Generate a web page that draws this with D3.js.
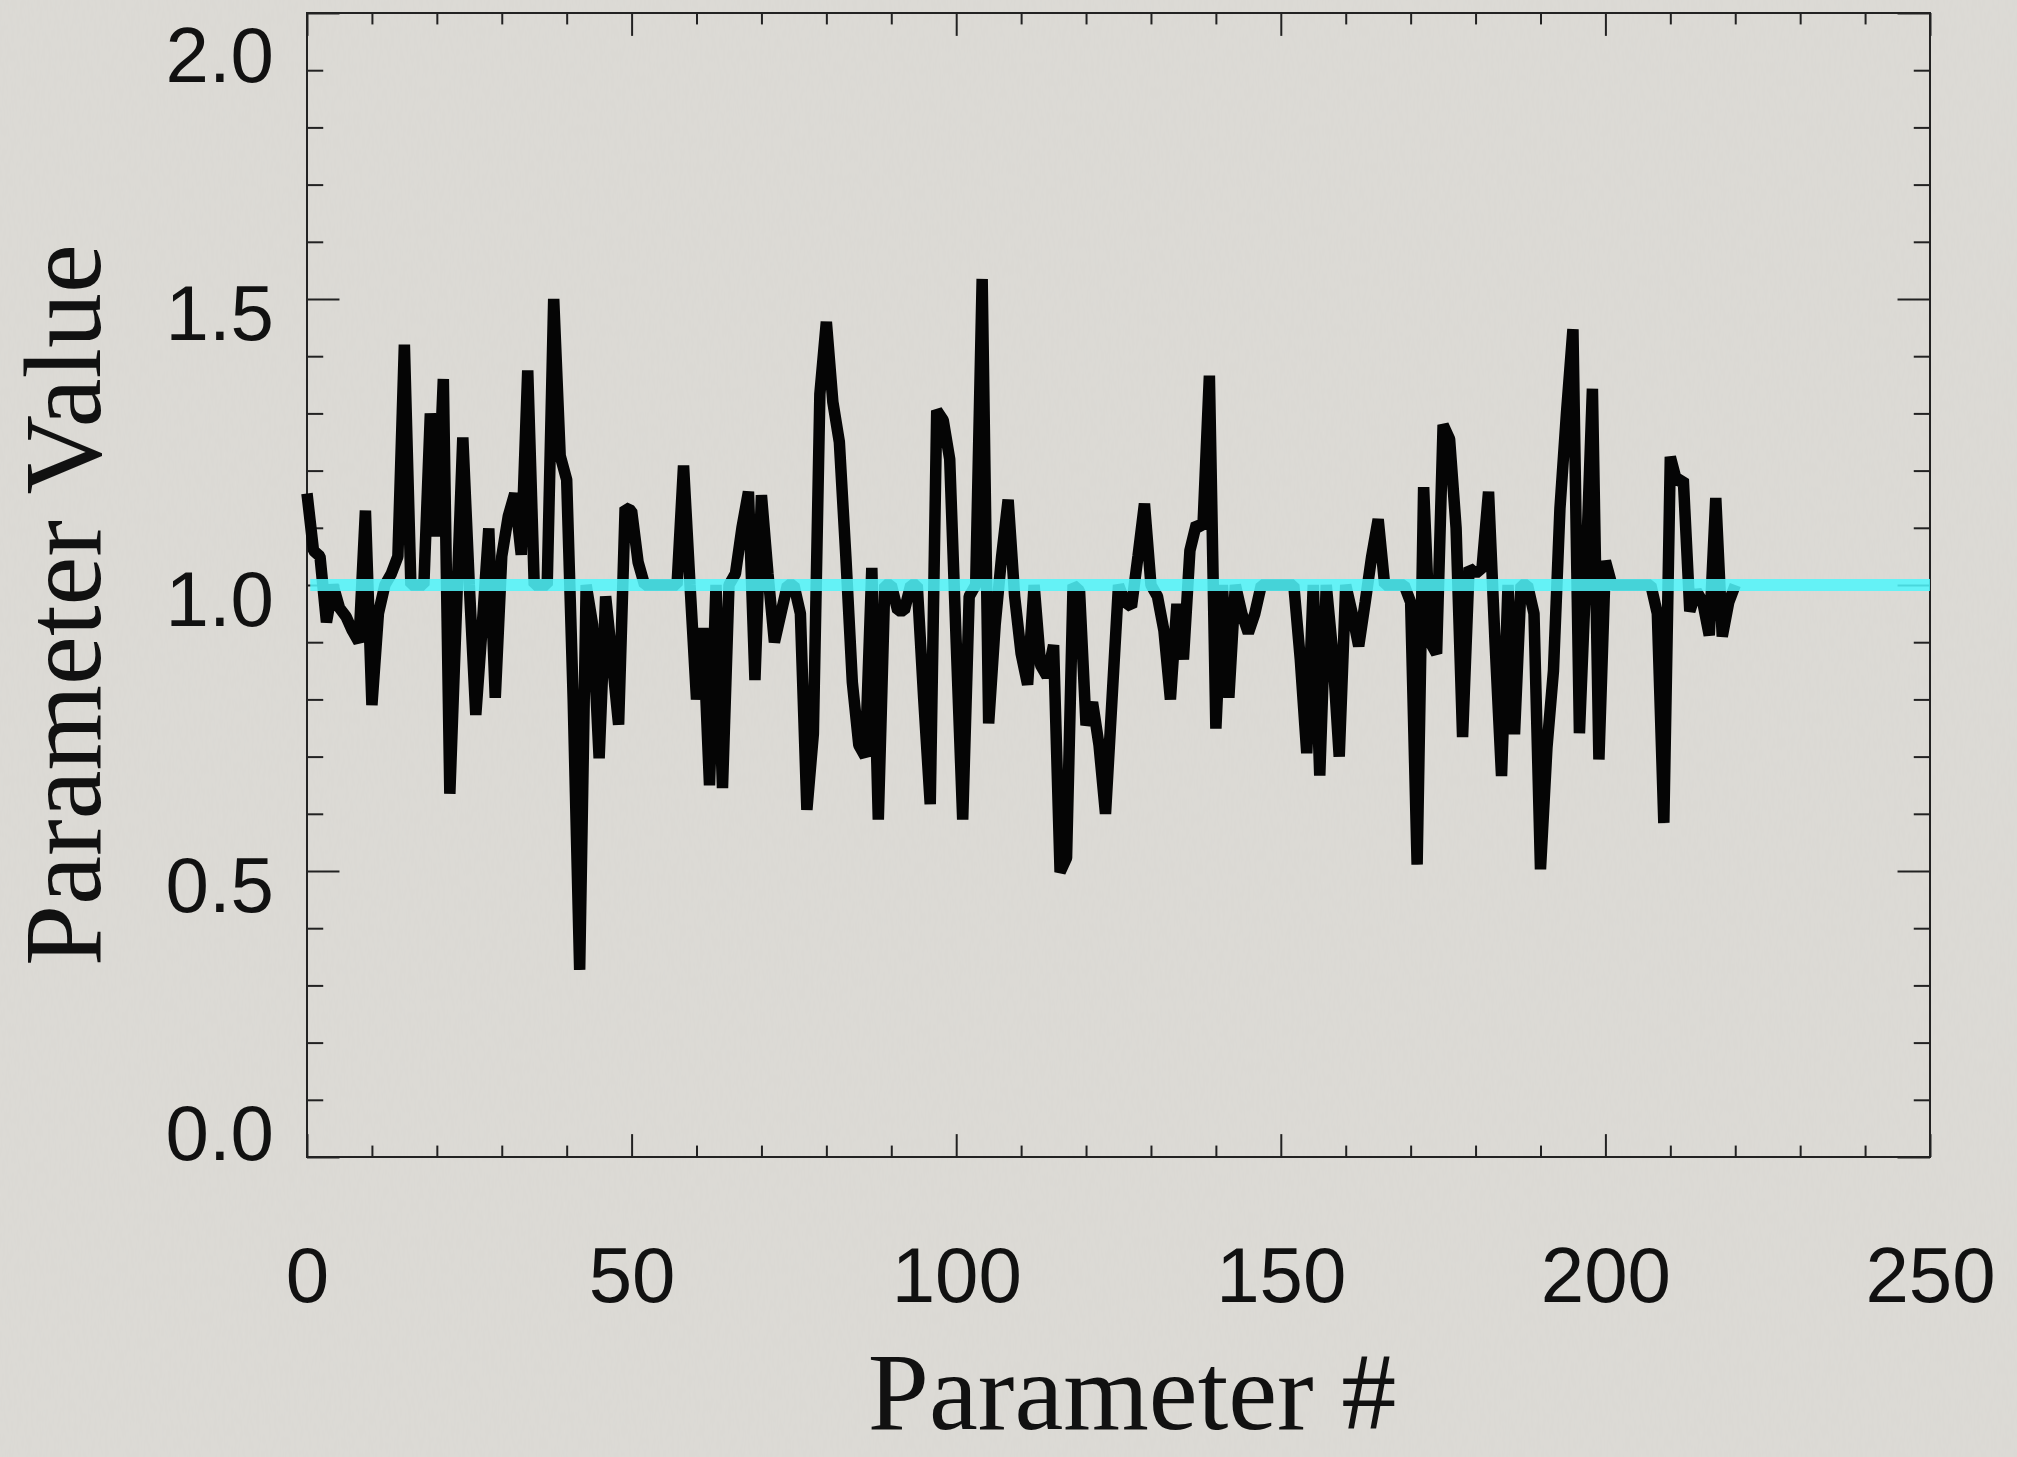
<!DOCTYPE html>
<html>
<head>
<meta charset="utf-8">
<script src="https://cdn.jsdelivr.net/npm/d3@7"></script>
<style>
  body { margin: 0; background: #dddbd6; }
  .tick text { font-family: "Liberation Sans", Arial, sans-serif; font-size: 78px; fill: #111; }
  .title { font-family: "Liberation Serif", "Times New Roman", serif; font-size: 110px; fill: #111; }
</style>
</head>
<body>
<script>
//dimensions declarations
var width = 2017;
var height = 1457;
var margin = {top: 13, right: 87, bottom: 300, left: 307};
    var w = width - margin.left - margin.right;
    var h = height - margin.top - margin.bottom;

//dataset declarations (value of each parameter, index = parameter #)
var paramValues = [
  1.16, 1.06, 1.05, 0.935, 1.0, 0.96, 0.945, 0.92, 0.90, 1.13,
  0.79, 0.95, 1.0, 1.02, 1.05, 1.42, 1.0, 1.0, 1.0, 1.30,
  1.085, 1.36, 0.635, 0.95, 1.258, 1.0, 0.773, 0.93, 1.099, 0.803,
  1.05, 1.12, 1.16, 1.053, 1.375, 1.0, 1.0, 1.0, 1.5, 1.226,
  1.184, 0.8, 0.327, 1.0, 0.93, 0.697, 0.98, 0.87, 0.756, 1.135,
  1.13, 1.04, 1.0, 1.0, 1.0, 1.0, 1.0, 1.0, 1.209, 1.0,
  0.80, 0.925, 0.65, 1.0, 0.645, 1.0, 1.02, 1.10, 1.163, 0.834,
  1.157, 1.02, 0.90, 0.95, 1.0, 1.0, 0.95, 0.607, 0.74, 1.334,
  1.46, 1.32, 1.25, 1.05, 0.83, 0.72, 0.70, 1.03, 0.59, 1.0,
  1.0, 0.955, 0.955, 1.0, 1.0, 0.8, 0.617, 1.305, 1.288, 1.22,
  0.9, 0.59, 0.98, 1.0, 1.535, 0.758, 0.93, 1.05, 1.149, 0.98,
  0.88, 0.826, 1.0, 0.86, 0.84, 0.895, 0.498, 0.523, 1.0, 0.99,
  0.755, 0.795, 0.72, 0.60, 0.8, 1.0, 0.97, 0.962, 1.05, 1.142,
  1.0, 0.98, 0.92, 0.80, 0.967, 0.87, 1.06, 1.107, 1.1, 1.366,
  0.749, 1.0, 0.803, 1.0, 0.95, 0.916, 0.95, 1.0, 1.0, 1.0,
  1.0, 1.0, 1.0, 0.87, 0.706, 1.0, 0.667, 1.0, 0.88, 0.70,
  1.0, 0.95, 0.893, 0.97, 1.05, 1.115, 1.0, 1.0, 1.0, 1.0,
  0.97, 0.511, 1.171, 0.90, 0.88, 1.28, 1.255, 1.1, 0.734, 1.03,
  1.02, 1.03, 1.163, 0.9, 0.666, 1.0, 0.739, 1.0, 1.0, 0.95,
  0.503, 0.716, 0.85, 1.134, 1.3, 1.447, 0.741, 1.02, 1.343, 0.695,
  1.042, 1.0, 1.0, 1.0, 1.0, 1.0, 1.0, 1.0, 0.95, 0.584,
  1.224, 1.18, 1.185, 0.954, 0.99, 0.97, 0.912, 1.152, 0.91, 0.97,
  1.0
];
//reference line (true value)
var refX = [0.5, 250];
var refY = [1.0, 1.0];

//tick labels
var xTicks = [0, 50, 100, 150, 200, 250];
var yTicks = [0.0, 0.5, 1.0, 1.5, 2.0];
var xMinor = [10, 20, 30, 40, 60, 70, 80, 90, 110, 120, 130, 140, 160, 170, 180, 190, 210, 220, 230, 240];
var yMinor = [0.1, 0.2, 0.3, 0.4, 0.6, 0.7, 0.8, 0.9, 1.1, 1.2, 1.3, 1.4, 1.6, 1.7, 1.8, 1.9];

var svg = d3.select("body").append("svg")
    .attr("width", width)
    .attr("height", height);

//paper-like grain for the background
var defs = svg.append("defs");
var grain = defs.append("filter").attr("id", "grain")
    .attr("x", 0).attr("y", 0).attr("width", "100%").attr("height", "100%");
grain.append("feTurbulence")
    .attr("type", "fractalNoise")
    .attr("baseFrequency", "0.35 0.08")
    .attr("numOctaves", 2)
    .attr("seed", 3)
    .attr("result", "noise");
grain.append("feColorMatrix")
    .attr("type", "matrix")
    .attr("values", "0 0 0 0 0.5  0 0 0 0 0.5  0 0 0 0 0.48  0 0 0 0.09 0");

svg.append("rect")
    .attr("width", width)
    .attr("height", height)
    .attr("fill", "#dddbd6");
svg.append("rect")
    .attr("width", width)
    .attr("height", height)
    .attr("filter", "url(#grain)");

var g = svg.append("g")
    .attr("transform", "translate(" + margin.left + "," + margin.top + ")");

var x = d3.scaleLinear().domain([0, 250]).range([0, w]);
var y = d3.scaleLinear().domain([0, 2]).range([h, 0]);

//tick lengths follow the plot size (2% / 1%)
var xMaj = 0.02 * h, xMin = 0.01 * h;
var yMaj = 0.02 * w, yMin = 0.01 * w;

function noDomain(sel) { sel.select(".domain").remove(); sel.selectAll(".tick line").attr("stroke", "#222").attr("stroke-width", 2); }

//bottom axis with labels
g.append("g")
    .attr("transform", "translate(0," + h + ")")
    .call(d3.axisBottom(x).tickValues(xTicks).tickSize(-xMaj).tickPadding(90).tickFormat(d3.format("d")))
    .call(noDomain);
g.append("g")
    .attr("transform", "translate(0," + h + ")")
    .call(d3.axisBottom(x).tickValues(xMinor).tickSize(-xMin).tickFormat(""))
    .call(noDomain);
//top mirror
g.append("g")
    .call(d3.axisTop(x).tickValues(xTicks).tickSize(-xMaj).tickFormat(""))
    .call(noDomain);
g.append("g")
    .call(d3.axisTop(x).tickValues(xMinor).tickSize(-xMin).tickFormat(""))
    .call(noDomain);

//left axis with labels
var yAxis = g.append("g")
    .call(d3.axisLeft(y).tickValues(yTicks).tickSize(-yMaj).tickPadding(33).tickFormat(d3.format(".1f")))
    .call(noDomain);
yAxis.selectAll(".tick text")
    .attr("dy", function(d) { return d == 2 ? "68px" : (d == 0 ? "2px" : "40px"); });
g.append("g")
    .call(d3.axisLeft(y).tickValues(yMinor).tickSize(-yMin).tickFormat(""))
    .call(noDomain);
//right mirror
g.append("g")
    .attr("transform", "translate(" + w + ",0)")
    .call(d3.axisRight(y).tickValues(yTicks).tickSize(-yMaj).tickFormat(""))
    .call(noDomain);
g.append("g")
    .attr("transform", "translate(" + w + ",0)")
    .call(d3.axisRight(y).tickValues(yMinor).tickSize(-yMin).tickFormat(""))
    .call(noDomain);

//frame
g.append("rect")
    .attr("width", w)
    .attr("height", h)
    .attr("fill", "none")
    .attr("stroke", "#222")
    .attr("stroke-width", 2);

//parameter line
var line = d3.line()
    .x(function(d, i) { return x(i); })
    .y(function(d) { return y(d); });

g.append("path")
    .datum(paramValues)
    .attr("d", line)
    .attr("fill", "none")
    .attr("stroke", "#050505")
    .attr("stroke-width", 11.5)
    .attr("stroke-linejoin", "bevel");

//reference line on top
g.append("path")
    .datum(refX.map(function(d, i) { return [d, refY[i]]; }))
    .attr("d", d3.line().x(function(d) { return x(d[0]); }).y(function(d) { return y(d[1]); }))
    .attr("fill", "none")
    .attr("stroke", "#50f6fb")
    .attr("stroke-opacity", 0.86)
    .attr("stroke-width", 12);

//axis titles
svg.append("text")
    .attr("class", "title")
    .attr("x", 1132)
    .attr("y", 1429)
    .attr("text-anchor", "middle")
    .text("Parameter #");

svg.append("text")
    .attr("class", "title")
    .attr("transform", "translate(100,605) rotate(-90)")
    .attr("text-anchor", "middle")
    .text("Parameter Value");
</script>
</body>
</html>
